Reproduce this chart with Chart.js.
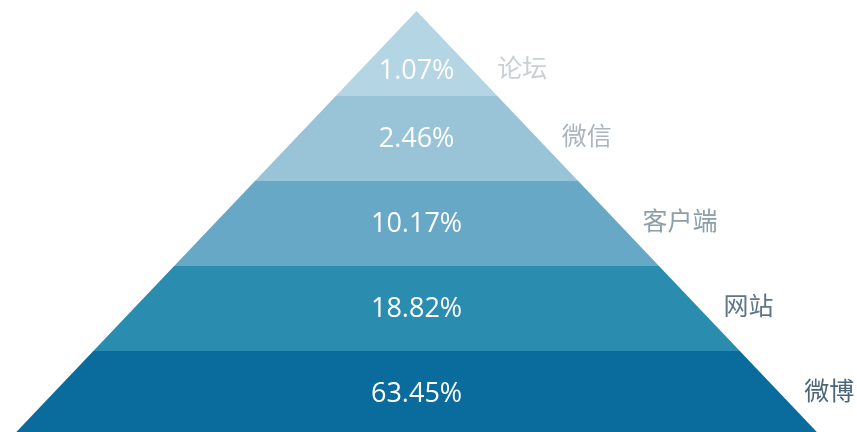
<!DOCTYPE html>
<html>
<head>
<meta charset="utf-8">
<script src="https://cdn.jsdelivr.net/npm/chart.js@4/dist/chart.umd.min.js"></script>
<style>
  body { margin: 0; background: #fff; }
  #wrap { width: 857px; height: 432px; }
</style>
</head>
<body>
<div id="wrap"><canvas id="pyramid"></canvas></div>
<script>
// channel shares, top of the pyramid first
const channels = ['论坛', '微信', '客户端', '网站', '微博'];
const shares = [1.07, 2.46, 10.17, 18.82, 63.45];
const bandColors = ['#b4d5e3', '#99c4d8', '#68a8c7', '#2a8db0', '#0a6c9c'];
const nameColors = ['#c9d0d4', '#a9b6be', '#8c9fab', '#5d7688', '#4b6679'];

const n = channels.length;

// half width of the pyramid at a given level (apex = n, base = 0)
function halfWidth(y) {
  return (n - y) / n;
}

// one closed trapezoid per band
const datasets = channels.map((name, i) => {
  const top = n - i;
  const bottom = n - i - 1;
  const pts = [
    { x: -halfWidth(top), y: top },
    { x: halfWidth(top), y: top },
    { x: halfWidth(bottom), y: bottom },
    { x: -halfWidth(bottom), y: bottom },
    { x: -halfWidth(top), y: top }
  ];
  return {
    label: name,
    data: pts,
    showLine: true,
    fill: 'shape',
    backgroundColor: bandColors[i],
    borderColor: bandColors[i],
    borderWidth: 0,
    pointRadius: 0,
    tension: 0
  };
});

// percentages inside the bands and channel names beside them
const labelPlugin = {
  id: 'bandLabels',
  afterDatasetsDraw(chart) {
    const ctx = chart.ctx;
    const xs = chart.scales.x;
    const ys = chart.scales.y;
    ctx.save();
    ctx.textBaseline = 'middle';
    channels.forEach((name, i) => {
      let yv = n - i - 0.5;
      if (i === 0) yv = n - i - 0.7;   // apex band is a triangle, push text down
      const py = ys.getPixelForValue(yv);
      ctx.font = '27px "Open Sans", sans-serif';
      ctx.fillStyle = '#ffffff';
      ctx.textAlign = 'center';
      ctx.fillText(shares[i].toFixed(2) + '%', xs.getPixelForValue(0), py + 1);

      ctx.font = '25px "Noto Sans CJK SC", sans-serif';
      ctx.fillStyle = nameColors[i];
      ctx.textAlign = 'left';
      ctx.fillText(name, xs.getPixelForValue(halfWidth(yv)) + 24, py - 3);
    });
    ctx.restore();
  }
};

new Chart(document.getElementById('pyramid'), {
  type: 'scatter',
  data: { datasets: datasets },
  options: {
    responsive: true,
    maintainAspectRatio: false,
    animation: false,
    layout: { padding: 0 },
    plugins: {
      legend: { display: false },
      tooltip: { enabled: false }
    },
    scales: {
      x: { type: 'linear', display: false, min: -1.031, max: 1.090 },
      y: { type: 'linear', display: false, min: 0.047, max: 5.129 }
    }
  },
  plugins: [labelPlugin]
});
</script>
</body>
</html>
